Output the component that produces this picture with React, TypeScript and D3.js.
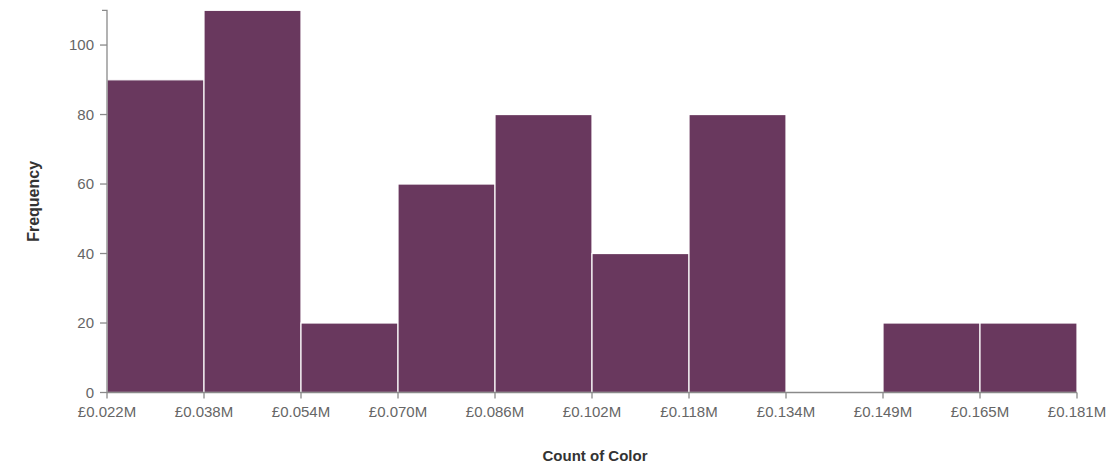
import React from "react";
import * as d3 from "d3";

const binLabels = ["£0.022M", "£0.038M", "£0.054M", "£0.070M", "£0.086M", "£0.102M", "£0.118M", "£0.134M", "£0.149M", "£0.165M", "£0.181M"];
const frequencies = [90, 110, 20, 60, 80, 40, 80, 0, 20, 20];
const yTicks = [0, 20, 40, 60, 80, 100];

export default function App() {
  const W = 1115, H = 465;
  const x = d3.scaleLinear().domain([0, frequencies.length]).range([107, 1077]);
  const y = d3.scaleLinear().domain([0, 110]).range([392.5, 10.3]);
  const barColor = "#69385e";
  const axisColor = "#8a8a8a";
  const font = "'Liberation Sans', Arial, sans-serif";
  return (
    <svg width={W} height={H} style={{ position: "absolute", left: 0, top: 0, background: "#fff" }}>
      {frequencies.map((f, i) => (
        <rect key={i} x={x(i)} y={y(f)} width={x(i + 1) - x(i)} height={y(0) - y(f)}
          fill={barColor} stroke="#ffffff" strokeWidth={1.2} />
      ))}
      {/* y axis */}
      <path d={`M${x(0) - 5},${y(110)}H${x(0)}V${y(0)}`} fill="none" stroke={axisColor} strokeWidth={1.3} />
      {yTicks.map((t) => (
        <g key={t}>
          <line x1={x(0) - 7} x2={x(0)} y1={y(t)} y2={y(t)} stroke={axisColor} strokeWidth={1.3} />
          <text x={x(0) - 13} y={y(t)} dy="0.35em" textAnchor="end" fontFamily={font} fontSize={15} fill="#666">{t}</text>
        </g>
      ))}
      {/* x axis */}
      <line x1={x(0)} x2={x(frequencies.length)} y1={y(0)} y2={y(0)} stroke={axisColor} strokeWidth={1.3} />
      {binLabels.map((l, i) => (
        <g key={l}>
          <line x1={x(i)} x2={x(i)} y1={y(0)} y2={y(0) + 6} stroke={axisColor} strokeWidth={1.3} />
          <text x={x(i)} y={y(0) + 19} dy="0.35em" textAnchor="middle" fontFamily={font} fontSize={15} fill="#666">{l}</text>
        </g>
      ))}
      <text transform={`translate(33,${(y(0) + y(110)) / 2}) rotate(-90)`} textAnchor="middle" dy="0.35em"
        fontFamily={font} fontSize={16} fontWeight="bold" fill="#333">Frequency</text>
      <text x={595} y={456} dy="0.35em" textAnchor="middle" fontFamily={font} fontSize={15} fontWeight="bold" fill="#333">Count of Color</text>
    </svg>
  );
}
